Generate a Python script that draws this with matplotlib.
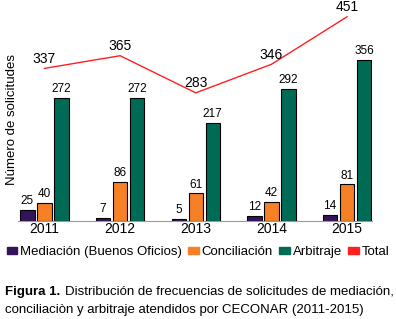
import numpy as np
import matplotlib.pyplot as plt
from matplotlib.patches import Patch

plt.rcParams['font.family'] = ['Liberation Sans', 'DejaVu Sans']

# Datos.
years = ['2011', '2012', '2013', '2014', '2015']
mediacion = [25, 7, 5, 12, 14]
conciliacion = [40, 86, 61, 42, 81]
arbitraje = [272, 272, 217, 292, 356]
total = [337, 365, 283, 346, 451]

c_med = '#33135a'
c_con = '#f58025'
c_arb = '#006b55'
c_tot = '#ff2020'

fig = plt.figure(figsize=(3.96, 3.19), dpi=100)
ax = fig.add_axes([18/396, 1-221/319, 354/396, 216/319])

x = np.arange(len(years))
w = 0.19
series = [(mediacion, -0.225, c_med), (conciliacion, 0, c_con), (arbitraje, 0.225, c_arb)]
for vals, off, col in series:
    bars = ax.bar(x+off, vals, w, color=col, edgecolor='black', linewidth=0.8, zorder=2)
    for b, v in zip(bars, vals):
        ax.annotate(str(v), (b.get_x()+b.get_width()/2, v), xytext=(0, 2),
                    textcoords='offset points', ha='center', va='bottom', fontsize=8.5)

ax.plot(x, total, color=c_tot, linewidth=1.0, zorder=3)
for xi, v in zip(x, total):
    ax.annotate(str(v), (xi, v), xytext=(0, 2), textcoords='offset points',
                ha='center', va='bottom', fontsize=10, annotation_clip=False)

ax.set_xlim(-0.35, 4.33)
ax.set_ylim(0, 477)
ax.set_xticks(x)
ax.set_xticklabels(years, fontsize=10)
ax.tick_params(axis='x', length=0, pad=1)
ax.set_yticks([])
for s in ['top', 'right', 'left']:
    ax.spines[s].set_visible(False)
ax.spines['bottom'].set_color('#999999')
ax.patch.set_alpha(0)

fig.text(12/396, 1-119/319, 'Número de solicitudes', rotation=90, ha='center', va='center', fontsize=9.5)

handles = [Patch(color=c_med), Patch(color=c_con), Patch(color=c_arb), Patch(color=c_tot)]
labels = ['Mediación (Buenos Oficios)', 'Conciliación', 'Arbitraje', 'Total']
fig.legend(handles, labels, ncol=4, loc='center', bbox_to_anchor=(0.5, 1-252/319),
           frameon=False, fontsize=9.5, handlelength=0.8, handleheight=0.5,
           handletextpad=0.2, columnspacing=0.5, borderpad=0)

fig.text(5/396, 1-292/319, 'Figura 1.', fontweight='bold', ha='left', va='center', fontsize=9.5)
fig.text(65/396, 1-292/319, 'Distribución de frecuencias de solicitudes de mediación,',
         ha='left', va='center', fontsize=9.5)
fig.text(5/396, 1-310/319, 'conciliaciòn y arbitraje atendidos por CECONAR (2011-2015)',
         ha='left', va='center', fontsize=9.5)

fig.savefig('out.png', dpi=100)
